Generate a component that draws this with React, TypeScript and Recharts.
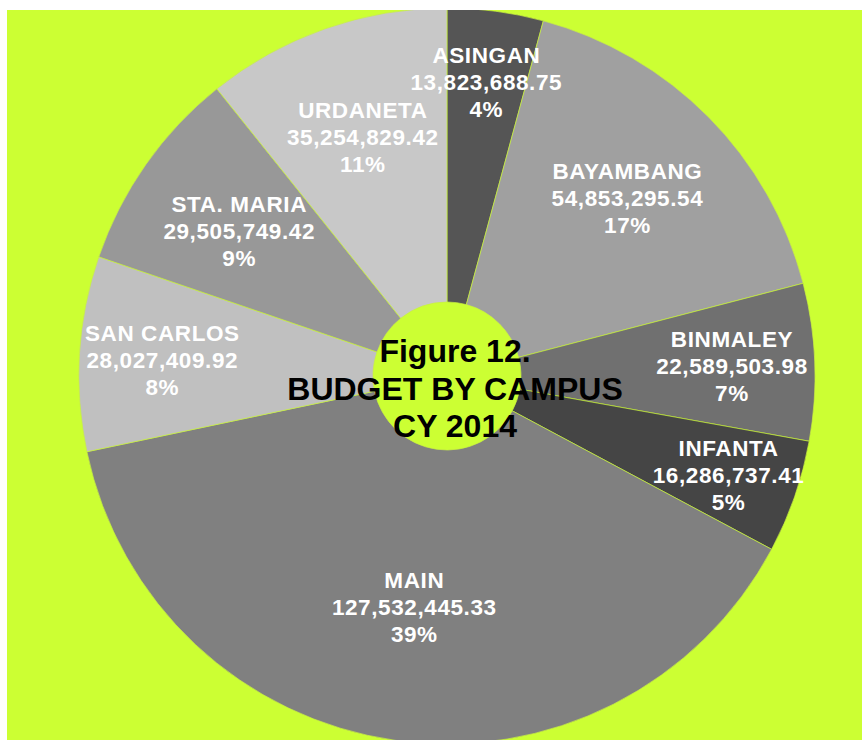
import { PieChart, Pie, Cell } from 'recharts'

const CAMPUSES = ['ASINGAN', 'BAYAMBANG', 'BINMALEY', 'INFANTA', 'MAIN', 'SAN CARLOS', 'STA. MARIA', 'URDANETA']
const BUDGETS = [
  13823688.75, 54853295.54, 22589503.98, 16286737.41, 127532445.33, 28027409.92, 29505749.42, 35254829.42,
]
const SHARES = ['4%', '17%', '7%', '5%', '39%', '8%', '9%', '11%']
const SHADES = ['#555555', '#a0a0a0', '#707070', '#454545', '#808080', '#c0c0c0', '#989898', '#c8c8c8']
const TITLE = ['Figure 12.', 'BUDGET BY CAMPUS', 'CY 2014']

const FONT = '"Liberation Sans", Arial, Helvetica, sans-serif'
const BG = '#ccff33'
const W = 855
const H = 730
const CX = 440
const CY = 366

const data = CAMPUSES.map((name, i) => ({ name, value: BUDGETS[i], share: SHARES[i] }))

function money(v: number): string {
  return v.toLocaleString('en-US', { minimumFractionDigits: 2, maximumFractionDigits: 2 })
}

// excel-ish "best fit": thin slices push their label further out
function renderLabel(props: any) {
  const { cx, cy, midAngle, outerRadius, percent, index } = props
  const sweep = percent * 360
  const ratio = sweep < 20 ? 0.81 : sweep < 31.5 ? 0.775 : sweep < 100 ? 0.69 : 0.63
  const r = outerRadius * ratio
  const rad = Math.PI / 180
  const x = cx + r * Math.cos(-midAngle * rad)
  const y = cy + r * Math.sin(-midAngle * rad)
  const d = data[index]
  return (
    <text
      key={`lbl-${index}`}
      textAnchor="middle"
      fill="#ffffff"
      fontSize={22.5}
      fontWeight="bold"
      fontFamily={FONT}
      letterSpacing={0.6}
    >
      <tspan x={x} y={y - 18}>{d.name}</tspan>
      <tspan x={x} y={y + 9}>{money(d.value)}</tspan>
      <tspan x={x} y={y + 36}>{d.share}</tspan>
    </text>
  )
}

export default function App() {
  return (
    <div
      style={{
        position: 'fixed',
        left: 7,
        top: 10,
        width: W,
        height: H,
        background: BG,
        overflow: 'hidden',
      }}
    >
      <PieChart width={W} height={H} margin={{ top: 0, right: 0, bottom: 0, left: 0 }}>
        <Pie
          data={data}
          dataKey="value"
          nameKey="name"
          cx={CX}
          cy={CY}
          innerRadius={74}
          outerRadius={368}
          startAngle={90}
          endAngle={-270}
          stroke="#c8f040"
          strokeWidth={0.7}
          label={renderLabel}
          labelLine={false}
          isAnimationActive={false}
        >
          {data.map((d, i) => (
            <Cell key={d.name} fill={SHADES[i]} />
          ))}
        </Pie>
      </PieChart>
      <div
        style={{
          position: 'absolute',
          left: CX + 8 - 250,
          top: CY - 24 - 19,
          width: 500,
          textAlign: 'center',
          fontFamily: FONT,
          fontWeight: 'bold',
          fontSize: 32,
          lineHeight: '37.5px',
          color: '#000000',
          pointerEvents: 'none',
        }}
      >
        {TITLE.map((t) => (
          <div key={t}>{t}</div>
        ))}
      </div>
    </div>
  )
}
